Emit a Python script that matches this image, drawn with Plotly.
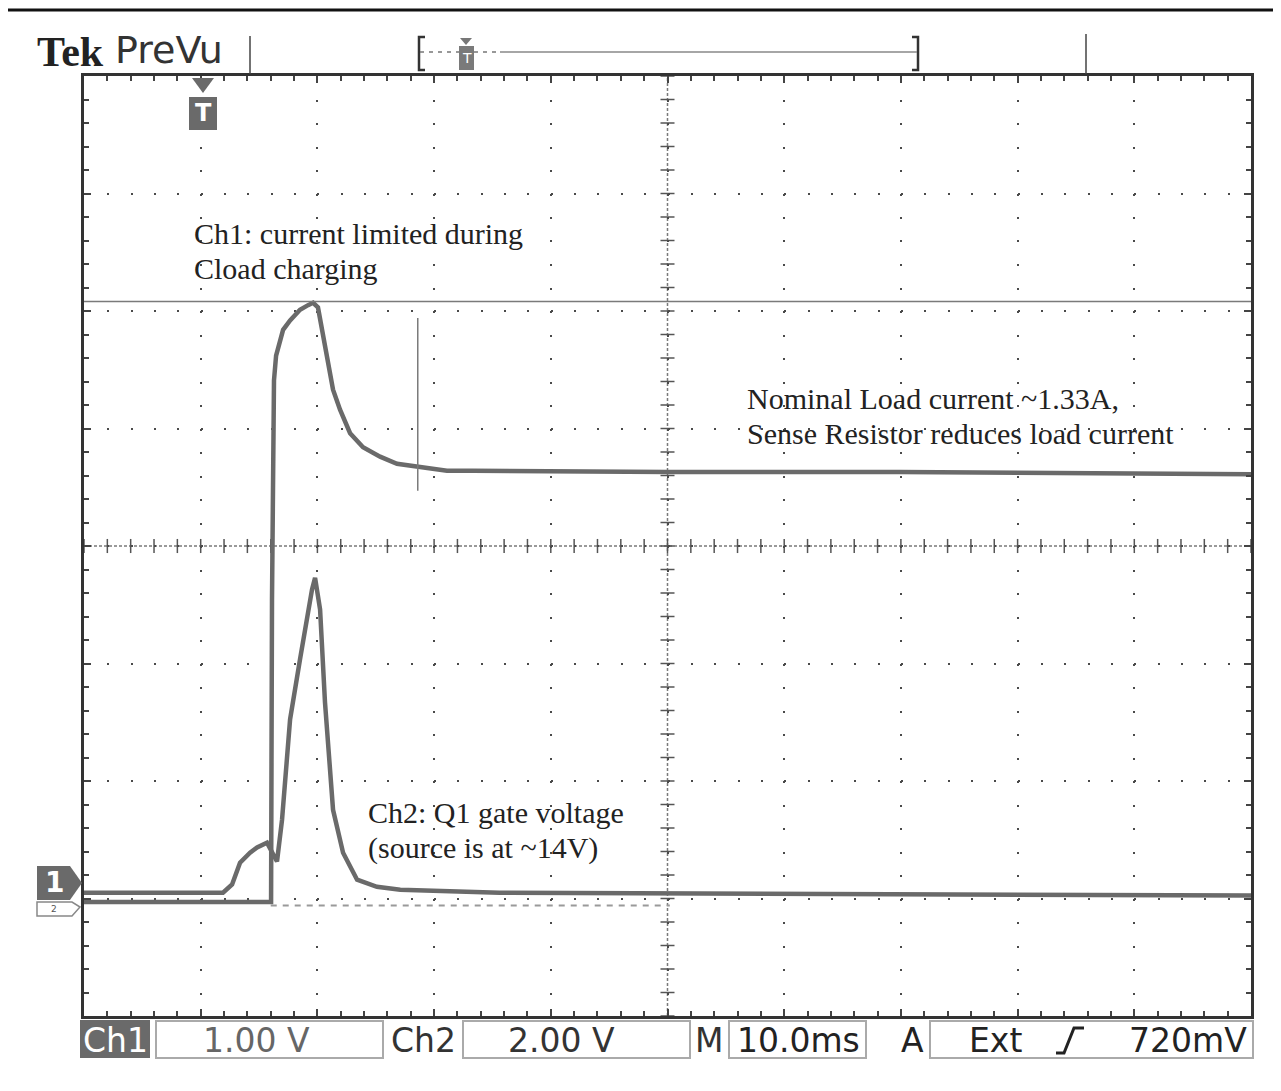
import plotly.graph_objects as go

# page body has an 8px margin; the figure covers the rest of the 1281x1091 window
OFF = 8
W, H = 1281 - OFF, 1091 - OFF

# ---------------- data (read from the screen) ----------------
# time in ms (10 ms/div, trigger at 0), Ch1 in volts (1 V/div), Ch2 in volts (2 V/div)
t_ch1 = [-10.2, 5.6, 5.83, 5.91, 6.08, 6.26, 6.43, 6.86, 7.46, 8.31, 9.0, 9.43, 9.85,
         10.2, 10.63, 11.14, 11.74, 12.6, 13.71, 15.17, 16.62, 18.59, 20.9, 23.1,
         39.8, 59.7, 89.8]
v_ch1 = [-0.16, -0.16, -0.16, 2.41, 4.28, 4.49, 4.56, 4.71, 4.79, 4.88, 4.92, 4.94, 4.90,
         4.71, 4.48, 4.20, 4.03, 3.83, 3.71, 3.63, 3.57, 3.54, 3.51, 3.51,
         3.50, 3.50, 3.48]

t_ch2 = [-10.2, 1.71, 2.49, 3.17, 4.03, 4.63, 5.48, 5.91, 6.34, 6.77, 7.2, 7.46, 8.31,
         8.91, 9.34, 9.6, 10.03, 10.45, 10.71, 11.14, 12.0, 13.2, 14.9, 16.9, 25.4, 89.8]
v_ch2 = [0.22, 0.22, 0.36, 0.73, 0.90, 0.99, 1.07, 0.92, 0.75, 1.46, 2.49, 3.17, 4.19,
         4.92, 5.38, 5.58, 5.04, 3.46, 2.66, 1.63, 0.90, 0.44, 0.32, 0.27, 0.22, 0.17]

cursor_level_v = 4.95          # horizontal cursor, Ch1 volts
marker_t = 18.4                # vertical marker time (ms)
marker_v = [3.34, 4.81]        # its extent in Ch1 volts

notes = [
    ("Ch1: current limited during", 192, 233),
    ("Cload charging", 192, 268),
    ("Nominal Load current ~1.33A,", 745, 398),
    ("Sense Resistor reduces load current", 745, 433),
    ("Ch2: Q1 gate voltage", 366, 812),
    ("(source is at ~14V)", 366, 848),
]

readouts = {"ch1": "1.00 V", "ch2": "2.00 V", "time": "10.0ms", "src": "Ext", "level": "720mV"}

# ---------------- helpers (window pixel -> paper) ----------------
def px(x):
    return (x - OFF) / W

def py(y):
    return 1 - (y - OFF) / H

def pth(points, close=False):
    s = "M " + " L ".join(f"{px(x):.5f},{py(y):.5f}" for x, y in points)
    return s + (" Z" if close else "")

TRACE = "#6a6a6a"
x_rng = [-10.2, 89.8]
y_rng = [-4, 4]

fig = go.Figure()

fig.add_trace(go.Scatter(x=t_ch1, y=v_ch1, mode="lines", yaxis="y2",
                         line=dict(color=TRACE, width=4.5), hoverinfo="skip"))
fig.add_trace(go.Scatter(x=t_ch2, y=v_ch2, mode="lines", yaxis="y3",
                         line=dict(color=TRACE, width=4.5), hoverinfo="skip"))

shapes = []
annotations = []

# ---- graticule centre lines with ticks ----
shapes.append(dict(type="line", xref="x domain", yref="y", x0=0, x1=1, y0=0, y1=0,
                   line=dict(color="#7a7a7a", width=1.5, dash="3px,2px"), layer="below"))
shapes.append(dict(type="line", xref="x", yref="y domain", x0=39.8, x1=39.8, y0=0, y1=1,
                   line=dict(color="#7a7a7a", width=1.5, dash="3px,2px"), layer="below"))
for k in range(51):
    t = x_rng[0] + 2 * k
    shapes.append(dict(type="line", xref="x", yref="y", x0=t, x1=t, y0=-0.06, y1=0.06,
                       line=dict(color="#555", width=1.5), layer="below"))
for k in range(41):
    yv = -4 + 0.2 * k
    shapes.append(dict(type="line", xref="x", yref="y", x0=39.2, x1=40.4, y0=yv, y1=yv,
                       line=dict(color="#555", width=1.5), layer="below"))

# ---- ground reference dashed line ----
shapes.append(dict(type="line", xref="x", yref="y3", x0=5.8, x1=40, y0=0, y1=0,
                   line=dict(color="#9a9a9a", width=2, dash="6px,6px"), layer="below"))

# ---- cursors ----
shapes.append(dict(type="line", xref="x domain", yref="y2", x0=0, x1=1,
                   y0=cursor_level_v, y1=cursor_level_v,
                   line=dict(color="#7a7a7a", width=1.5)))
shapes.append(dict(type="line", xref="x", yref="y2", x0=marker_t, x1=marker_t,
                   y0=marker_v[0], y1=marker_v[1],
                   line=dict(color="#7a7a7a", width=1.5)))

# ---- top rule ----
shapes.append(dict(type="line", xref="paper", yref="paper", x0=px(8), x1=px(1281),
                   y0=py(10), y1=py(10), line=dict(color="#111", width=3)))

# ---- header ----
for xv, ya, yb in [(250, 36, 74), (1086, 34, 74)]:
    shapes.append(dict(type="line", xref="paper", yref="paper", x0=px(xv), x1=px(xv),
                       y0=py(ya), y1=py(yb), line=dict(color="#444", width=1.5)))
shapes.append(dict(type="path", xref="paper", yref="paper",
                   path=pth([(425, 37), (419, 37), (419, 70), (425, 70)]),
                   line=dict(color="#333", width=2.5)))
shapes.append(dict(type="path", xref="paper", yref="paper",
                   path=pth([(912, 37), (918, 37), (918, 70), (912, 70)]),
                   line=dict(color="#333", width=2.5)))
shapes.append(dict(type="line", xref="paper", yref="paper", x0=px(420), x1=px(500),
                   y0=py(52), y1=py(52), line=dict(color="#777", width=1.5, dash="4px,5px")))
shapes.append(dict(type="line", xref="paper", yref="paper", x0=px(500), x1=px(917),
                   y0=py(52), y1=py(52), line=dict(color="#888", width=1.5)))
shapes.append(dict(type="path", xref="paper", yref="paper",
                   path=pth([(460, 38), (472, 38), (466, 45)], True),
                   fillcolor="#777", line=dict(width=0)))
shapes.append(dict(type="rect", xref="paper", yref="paper", x0=px(459), x1=px(474),
                   y0=py(46), y1=py(70), fillcolor="#7a7a7a", line=dict(width=0)))
annotations.append(dict(text="T", x=px(466.5), y=py(58), xref="paper", yref="paper",
                        showarrow=False, font=dict(family="DejaVu Sans", size=14, color="white"),
                        xanchor="center", yanchor="middle"))
annotations.append(dict(text="<b>Tek</b>", x=px(35), y=py(52), xref="paper", yref="paper",
                        showarrow=False, font=dict(family="Liberation Serif", size=42, color="#222"),
                        xanchor="left", yanchor="middle"))
annotations.append(dict(text="PreVu", x=px(113), y=py(50), xref="paper", yref="paper",
                        showarrow=False, font=dict(family="DejaVu Sans", size=38, color="#333"),
                        xanchor="left", yanchor="middle"))

# ---- trigger marker inside the graticule ----
shapes.append(dict(type="path", xref="paper", yref="paper",
                   path=pth([(192, 78), (214, 78), (203, 93)], True),
                   fillcolor="#6a6a6a", line=dict(width=0)))
shapes.append(dict(type="rect", xref="paper", yref="paper", x0=px(189), x1=px(217),
                   y0=py(97), y1=py(130), fillcolor="#6a6a6a", line=dict(width=0)))
annotations.append(dict(text="<b>T</b>", x=px(203), y=py(113), xref="paper", yref="paper",
                        showarrow=False, font=dict(family="DejaVu Sans", size=24, color="white"),
                        xanchor="center", yanchor="middle"))

# ---- channel ground markers ----
shapes.append(dict(type="path", xref="paper", yref="paper",
                   path=pth([(37, 866), (70, 866), (82, 883), (70, 900), (37, 900)], True),
                   fillcolor="#6a6a6a", line=dict(width=0)))
annotations.append(dict(text="<b>1</b>", x=px(54), y=py(883), xref="paper", yref="paper",
                        showarrow=False, font=dict(family="DejaVu Sans", size=28, color="white"),
                        xanchor="center", yanchor="middle"))
shapes.append(dict(type="path", xref="paper", yref="paper",
                   path=pth([(37, 902), (72, 902), (80, 907), (72, 916), (37, 916)], True),
                   fillcolor="white", line=dict(color="#888", width=1.5)))
annotations.append(dict(text="2", x=px(54), y=py(909), xref="paper", yref="paper",
                        showarrow=False, font=dict(family="DejaVu Sans", size=9, color="#555"),
                        xanchor="center", yanchor="middle"))

# ---- on-screen notes ----
for txt, xl, yc in notes:
    annotations.append(dict(text=txt, x=px(xl), y=py(yc), xref="paper", yref="paper",
                            showarrow=False, xanchor="left", yanchor="middle",
                            font=dict(family="Liberation Serif", size=30, color="#222")))

# ---- bottom readout row ----
shapes.append(dict(type="rect", xref="paper", yref="paper", x0=px(80), x1=px(150),
                   y0=py(1020), y1=py(1058), fillcolor="#6a6a6a", line=dict(width=0)))
for x0, x1 in [(156, 383), (463, 690), (729, 866), (930, 1253)]:
    shapes.append(dict(type="rect", xref="paper", yref="paper", x0=px(x0), x1=px(x1),
                       y0=py(1021), y1=py(1058), line=dict(color="#aaa", width=2)))
shapes.append(dict(type="path", xref="paper", yref="paper",
                   path=pth([(1056, 1053), (1064, 1053), (1074, 1028), (1084, 1028)]),
                   line=dict(color="#222", width=3)))
bottom = [
    ("Ch1", 115, "white"),
    (readouts["ch1"], 256, "#666"),
    ("Ch2", 423, "#333"),
    (readouts["ch2"], 561, "#333"),
    ("M", 709, "#333"),
    (readouts["time"], 798, "#222"),
    ("A", 912, "#222"),
    (readouts["src"], 995, "#222"),
    (readouts["level"], 1188, "#222"),
]
for txt, xc, col in bottom:
    annotations.append(dict(text=txt, x=px(xc), y=py(1040), xref="paper", yref="paper",
                            showarrow=False, xanchor="center", yanchor="middle",
                            font=dict(family="DejaVu Sans", size=33, color=col)))

axis_common = dict(showticklabels=False, zeroline=False, showline=True, linewidth=3,
                   linecolor="#333", mirror="ticks", ticks="inside", ticklen=7,
                   tickwidth=2, tickcolor="#444", showgrid=True, gridcolor="#4a4a4a",
                   gridwidth=2)

fig.update_layout(
    width=W, height=H,
    margin=dict(l=0, r=0, t=0, b=0),
    paper_bgcolor="white", plot_bgcolor="white",
    showlegend=False,
    xaxis=dict(range=x_rng, domain=[px(84), px(1251)], tick0=x_rng[0], dtick=10,
               griddash="2px,21.5px",
               minor=dict(dtick=2, tick0=x_rng[0], ticks="inside", ticklen=5,
                          tickcolor="#444", tickwidth=1.5, showgrid=False),
               **axis_common),
    yaxis=dict(range=y_rng, domain=[py(1016), py(76)], tick0=-4, dtick=1,
               griddash="2px,21.34px",
               minor=dict(dtick=0.2, tick0=-4, ticks="inside", ticklen=5,
                          tickcolor="#444", tickwidth=1.5, showgrid=False),
               **axis_common),
    yaxis2=dict(range=[-1.13, 6.87], overlaying="y", anchor="x", visible=False),
    yaxis3=dict(range=[-1.88, 14.12], overlaying="y", anchor="x", visible=False),
    shapes=shapes,
    annotations=annotations,
)

fig.write_html("out.html", config={"displayModeBar": False})
